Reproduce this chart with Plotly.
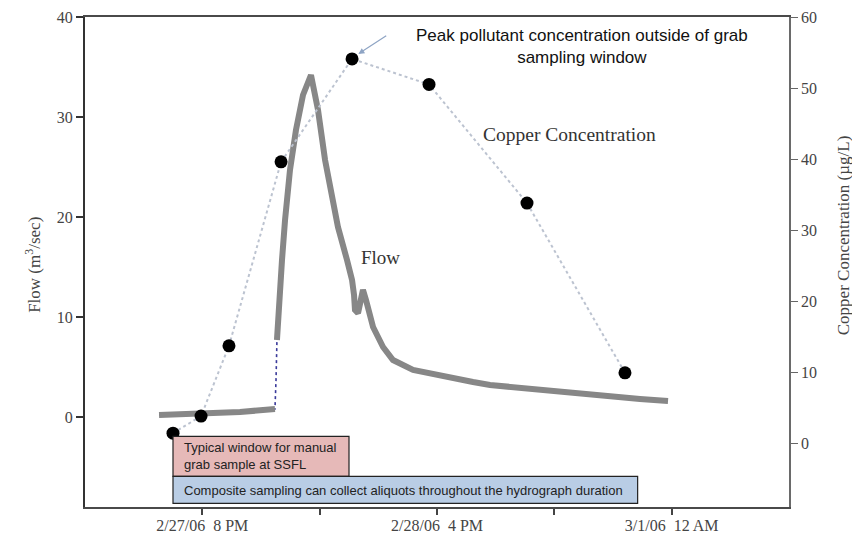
import plotly.graph_objects as go

# ---- data (x in hours from axis origin) ----
flow_hours = [6.31, 9.89, 13.21, 16.19, 16.28, 16.36, 16.53, 16.79, 17.05, 17.47, 17.98, 18.58, 19.26,
              19.86, 20.46, 21.05, 21.56, 22.33, 22.76, 22.93, 23.01, 23.27, 23.69, 23.95, 24.55,
              25.40, 26.25, 27.96, 30.26, 33.07, 34.52, 38.78, 43.04, 47.30, 49.69]
flow_values = [0.2, 0.3, 0.5, 0.8, 3.7, 7.7, 11.7, 15.7, 19.7, 24.7, 28.7, 32.2, 34.2,
               30.7, 25.7, 21.7, 19.0, 15.7, 13.7, 12.2, 10.7, 10.4, 12.7, 11.7, 9.0,
               7.0, 5.7, 4.7, 4.1, 3.5, 3.2, 2.7, 2.2, 1.8, 1.6]

copper_hours = [7.50, 9.89, 12.27, 16.71, 22.76, 29.32, 37.67, 46.02]
copper_values = [1.4, 3.8, 13.7, 39.6, 54.1, 50.5, 33.8, 9.9]

x_tickvals = [10, 20, 30, 40, 50]
x_ticktext = ["2/27/06  8 PM", "", "2/28/06  4 PM", "", "3/1/06  12 AM"]

# gray band breaks where the raw record jumps steeply (shown only as dotted blue)
gap_index = 4
flow_gray = [None if i == gap_index else v for i, v in enumerate(flow_values)]

serif = "Liberation Serif"
sans = "Liberation Sans"

fig = go.Figure()

fig.add_trace(go.Scatter(x=flow_hours, y=flow_values, mode="lines",
                         line=dict(color="#3a3a9a", width=1.6, dash="dot"),
                         showlegend=False, yaxis="y"))
fig.add_trace(go.Scatter(x=flow_hours, y=flow_gray, mode="lines",
                         line=dict(color="#878787", width=6),
                         connectgaps=False, showlegend=False, yaxis="y"))
fig.add_trace(go.Scatter(x=copper_hours, y=copper_values, mode="lines+markers",
                         line=dict(color="#bcc3d0", width=2, dash="dot"),
                         marker=dict(color="black", size=13),
                         showlegend=False, yaxis="y2"))

fig.update_layout(
    width=852, height=535,
    margin=dict(l=85, r=63, t=17, b=28),
    paper_bgcolor="white", plot_bgcolor="white",
    xaxis=dict(range=[0, 60], tickvals=x_tickvals, ticktext=x_ticktext,
               ticks="outside", ticklen=6, tickwidth=1.5, tickcolor="#444",
               ticklabelstandoff=-3,
               showgrid=False, zeroline=False, showline=True, linecolor="#4a4a4a",
               linewidth=2, mirror=True, automargin=False,
               tickfont=dict(family=serif, size=16, color="#444")),
    yaxis=dict(range=[-9, 40], tickvals=[0, 10, 20, 30, 40],
               ticks="outside", ticklen=7, tickwidth=2, tickcolor="#333",
               showgrid=False, zeroline=False, showline=True, linecolor="#333",
               linewidth=2, automargin=False,
               tickfont=dict(family=serif, size=16, color="#444")),
    yaxis2=dict(range=[-9, 60], tickvals=[0, 10, 20, 30, 40, 50, 60],
                overlaying="y", side="right",
                ticks="outside", ticklen=7, tickwidth=1.2, tickcolor="#666",
                showgrid=False, zeroline=False, showline=True, linecolor="#6a6a6a",
                linewidth=1.5, automargin=False,
                tickfont=dict(family=serif, size=16, color="#444")),
    shapes=[
        dict(type="rect", xref="x", yref="y", x0=7.5, x1=22.5, y0=-5.93, y1=-1.93,
             fillcolor="#e6b9b8", line=dict(color="#222", width=1.2), layer="above"),
        dict(type="rect", xref="x", yref="y", x0=7.5, x1=47.1, y0=-8.63, y1=-5.93,
             fillcolor="#b9cde5", line=dict(color="#222", width=1.2), layer="above"),
    ],
    annotations=[
        dict(text="Flow (m<sup>3</sup>/sec)", xref="paper", yref="paper", x=-0.074, y=0.494,
             xanchor="center", yanchor="middle",
             textangle=-90, showarrow=False, font=dict(family=serif, size=17, color="#444")),
        dict(text="Copper Concentration (µg/L)", xref="paper", yref="paper", x=1.077, y=0.555,
             xanchor="center", yanchor="middle",
             textangle=-90, showarrow=False, font=dict(family=serif, size=17, color="#444")),
        dict(text="Copper Concentration", xref="x", yref="y2", x=41.3, y=43.5,
             xanchor="center", showarrow=False, font=dict(family=serif, size=19.5, color="#333")),
        dict(text="Flow", xref="x", yref="y", x=25.2, y=16.0,
             xanchor="center", showarrow=False, font=dict(family=serif, size=19, color="#333")),
        dict(text="Peak pollutant concentration outside of grab<br>sampling window",
             xref="paper", yref="paper", x=(582 - 85) / 704, y=(507 - 46) / 490,
             xanchor="center", yanchor="middle",
             showarrow=False, align="center",
             font=dict(family=sans, size=17, color="#111")),
        dict(text="", xref="x", yref="y2", x=23.3, y=54.8,
             ax=25.8, ay=57.5, axref="x", ayref="y2", showarrow=True,
             arrowhead=2, arrowsize=1, arrowwidth=1.2, arrowcolor="#8ea4c4"),
        dict(text="Typical window for manual<br>grab sample at SSFL",
             xref="x", yref="y", x=8.27, y=-3.93, xanchor="left", yanchor="middle",
             align="left", showarrow=False, font=dict(family=sans, size=13, color="#222")),
        dict(text="Composite sampling can collect aliquots throughout the hydrograph duration",
             xref="x", yref="y", x=8.27, y=-7.33, xanchor="left", yanchor="middle",
             align="left", showarrow=False, font=dict(family=sans, size=13, color="#222")),
    ],
)

fig.write_html("out.html", config={"displayModeBar": False},
               post_script="document.body.style.margin='0px';")
